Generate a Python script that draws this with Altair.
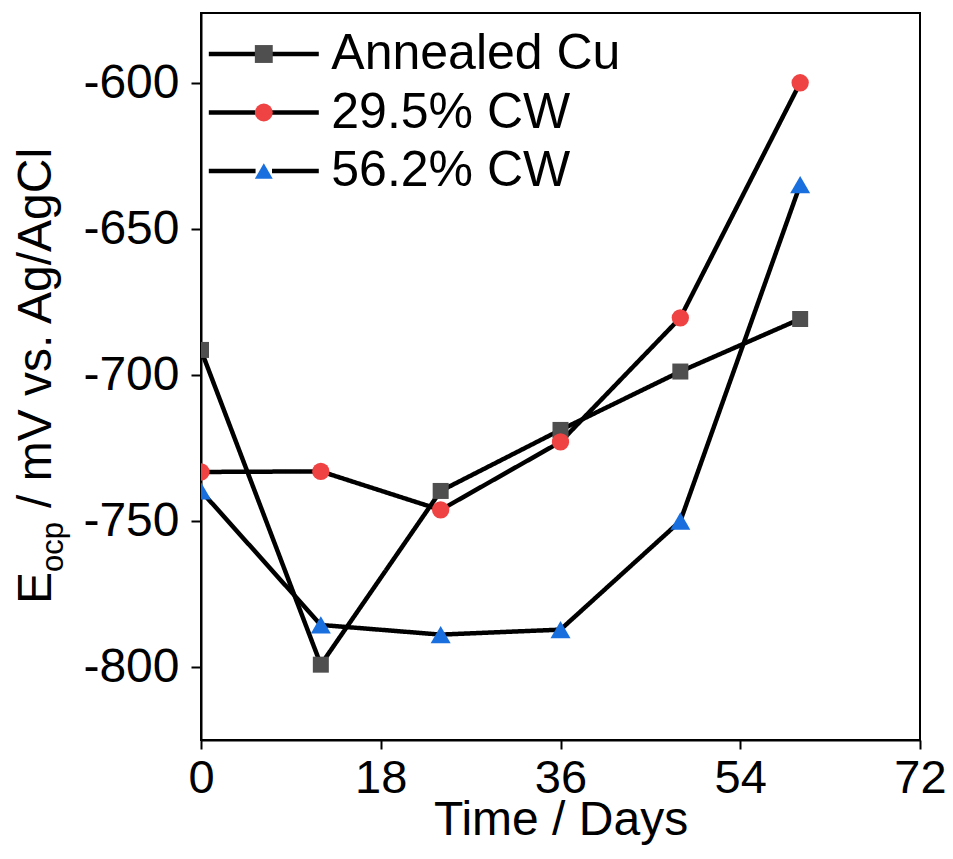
import altair as alt
import pandas as pd

# ---- data ----
days = [0, 12, 24, 36, 48, 60]
series_names = ["Annealed Cu", "29.5% CW", "56.2% CW"]
annealed = [-691.4, -799.2, -739.7, -718.8, -698.8, -680.8]
cw295 = [-733.2, -733.0, -746.2, -722.9, -680.4, -599.9]
cw562 = [-739.7, -785.6, -788.9, -787.2, -750.0, -634.8]
marker_colors = ["#4f4f4f", "#ef4242", "#1a6fdf"]
marker_shapes = ["square", "circle", "triangle-up"]
marker_sizes = [256, 300, 400]
x_ticks = [0, 18, 36, 54, 72]
y_ticks = [-800, -750, -700, -650, -600]

line_keys = ["line " + n for n in series_names]

rows = []
for name, key, vals, sz in zip(series_names, line_keys, [annealed, cw295, cw562], marker_sizes):
    for d, v in zip(days, vals):
        rows.append({"day": d, "E": v, "series": name, "series_line": key, "msize": sz})
df = pd.DataFrame(rows)

FONT = "Liberation Sans"
FS = 48
LFS = 50

x_enc = alt.X("day:Q", scale=alt.Scale(domain=[0, 72], nice=False, zero=False),
              axis=alt.Axis(values=x_ticks, title="Time / Days", grid=False,
                            tickSize=9, labelPadding=6, titlePadding=-5,
                            labelFontSize=47,
                            labelFlush=False, labelOverlap=False))
y_enc = alt.Y("E:Q", scale=alt.Scale(domain=[-825, -576], nice=False, zero=False),
              axis=alt.Axis(values=y_ticks, title=None, grid=False,
                            tickSize=10, labelPadding=12,
                            labelExpr="'' + datum.value"))

line_path = "M-6.35,0H-0.95M0.95,0H6.35"
LX = 37.8
LY = 16

lines = alt.Chart(df).mark_line(color="black", strokeWidth=4.5, clip=True).encode(
    x=x_enc, y=y_enc,
    strokeDash=alt.StrokeDash(
        "series_line:N",
        scale=alt.Scale(domain=line_keys, range=[[1, 0], [1, 0], [1, 0]]),
        legend=alt.Legend(orient="none", legendX=LX, legendY=LY, title=None,
                          symbolType=line_path, symbolSize=300,
                          symbolStrokeColor="black", symbolStrokeWidth=4.5,
                          labelExpr="''", labelFontSize=LFS, labelFont=FONT,
                          labelOffset=42.5, rowPadding=8.5, padding=0),
    ),
)

points = alt.Chart(df).mark_point(filled=True, opacity=1, clip=True).encode(
    x=x_enc, y=y_enc,
    color=alt.Color("series:N", scale=alt.Scale(domain=series_names, range=marker_colors),
                    legend=alt.Legend(orient="none", legendX=LX, legendY=LY, title=None,
                                      symbolSize=320, symbolStrokeWidth=0,
                                      labelFontSize=LFS, labelFont=FONT, labelColor="black",
                                      labelLimit=0,
                                      labelOffset=42.5, rowPadding=8.5, padding=0)),
    shape=alt.Shape("series:N", scale=alt.Scale(domain=series_names, range=marker_shapes)),
    size=alt.Size("msize:Q", scale=None),
)

title_df = pd.DataFrame({"t": ["E"]})
sub_df = pd.DataFrame({"t": ["ocp"]})
rest_df = pd.DataFrame({"t": ["/ mV vs. Ag/AgCl"]})

def ytitle(data, x, y, size):
    return alt.Chart(data).mark_text(angle=270, align="left", baseline="alphabetic",
                                     font=FONT, fontSize=size, color="black").encode(
        text="t:N", x=alt.value(x), y=alt.value(y))

t1 = ytitle(title_df, -150, 591, FS)
t2 = ytitle(sub_df, -138, 559, 31)
t3 = ytitle(rest_df, -150, 495, FS)

chart = alt.layer(lines, points, t1, t2, t3).properties(
    width=719, height=727,
    padding={"left": 193, "top": 5, "right": 25, "bottom": 110},
    autosize=alt.AutoSizeParams(type="none"),
).configure_view(stroke="black", strokeWidth=2).configure_axis(
    labelFont=FONT, labelFontSize=FS, labelColor="black",
    titleFont=FONT, titleFontSize=FS, titleColor="black", titleFontWeight="normal",
    domainColor="black", domainWidth=2, tickColor="black", tickWidth=2,
).configure_legend(labelFont=FONT)

chart.save("out.html", embed_options={"renderer": "svg", "actions": False})
